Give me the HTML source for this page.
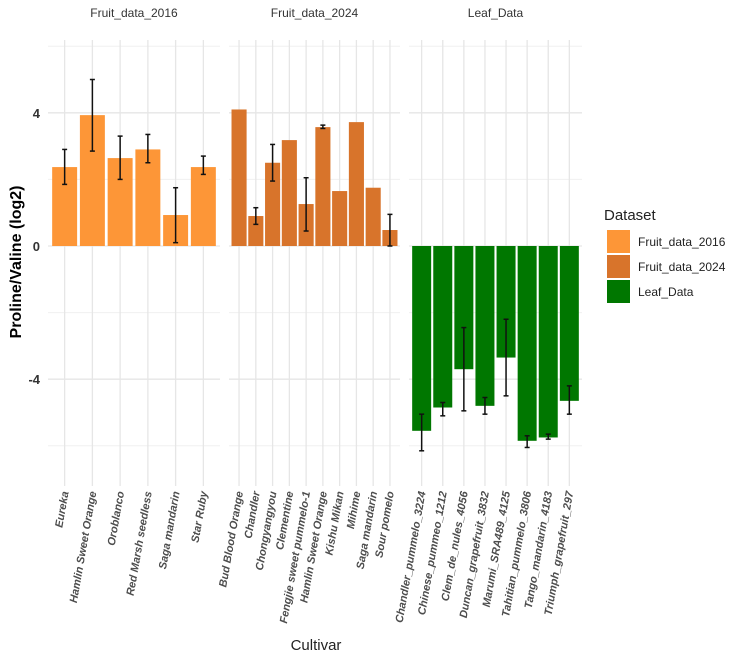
<!DOCTYPE html>
<html><head><meta charset="utf-8"><style>
body{margin:0;background:#fff}
svg{display:block;font-family:"Liberation Sans",sans-serif}
</style></head><body>
<svg id="chart" width="735" height="657" viewBox="0 0 735 657" xmlns="http://www.w3.org/2000/svg">
<g id="grid"></g>
<g id="marks"></g>
<g id="labels"></g>
<text x="0" y="0" transform="translate(21,262) rotate(-90)" text-anchor="middle" font-size="16" font-weight="bold">Proline/Valine (log2)</text>
<text x="316" y="650" text-anchor="middle" font-size="15" fill="#222">Cultivar</text>
<g>
<text x="604" y="220" font-size="15" fill="#222">Dataset</text>
<rect x="607" y="230" width="23" height="23" fill="#FD9637"/>
<text x="638" y="246" font-size="12" fill="#222">Fruit_data_2016</text>
<rect x="607" y="255" width="23" height="23" fill="#D8742B"/>
<text x="638" y="271" font-size="12" fill="#222">Fruit_data_2024</text>
<rect x="607" y="280" width="23" height="23" fill="#007700"/>
<text x="638" y="296" font-size="12" fill="#222">Leaf_Data</text>
</g>
</svg>
<script>
const cats2016=["Eureka","Hamlin Sweet Orange","Oroblanco","Red Marsh seedless","Saga mandarin","Star Ruby"];
const vals2016=[2.37,3.93,2.64,2.9,0.93,2.37];
const lo2016=[1.85,2.85,2.0,2.5,0.1,2.15];
const hi2016=[2.9,5.0,3.3,3.35,1.75,2.7];
const cats2024=["Bud Blood Orange","Chandler","Chongyangyou","Clementine","Fengjie sweet pummelo-1","Hamlin Sweet Orange","Kishu Mikan","Mihime","Saga mandarin","Sour pomelo"];
const vals2024=[4.1,0.9,2.5,3.18,1.26,3.57,1.65,3.72,1.75,0.48];
const lo2024=[null,0.65,1.95,null,0.45,3.53,null,null,null,0.0];
const hi2024=[null,1.15,3.05,null,2.05,3.63,null,null,null,0.95];
const catsLeaf=["Chandler_pummelo_3224","Chinese_pummeo_1212","Clem_de_nules_4056","Duncan_grapefruit_3832","Marumi_SRA489_4125","Tahitian_pummelo_3806","Tango_mandarin_4183","Triumph_grapefruit_297"];
const valsLeaf=[-5.55,-4.85,-3.7,-4.8,-3.35,-5.85,-5.75,-4.65];
const loLeaf=[-6.15,-5.1,-4.95,-5.05,-4.5,-6.05,-5.8,-5.05];
const hiLeaf=[-5.05,-4.7,-2.45,-4.55,-2.2,-5.7,-5.65,-4.2];
const panelTitles=["Fruit_data_2016","Fruit_data_2024","Leaf_Data"];
const yMajor=[-4,0,4];
const yMinor=[-6,-2,2,6];

const NS="http://www.w3.org/2000/svg";
const top0=40,bot0=486;
const y=v=>246-v*33.3;
const panels=[
 {x0:48,x1:220,cats:cats2016,vals:vals2016,lo:lo2016,hi:hi2016,col:"#FD9637"},
 {x0:229,x1:400,cats:cats2024,vals:vals2024,lo:lo2024,hi:hi2024,col:"#D8742B"},
 {x0:409,x1:582,cats:catsLeaf,vals:valsLeaf,lo:loLeaf,hi:hiLeaf,col:"#007700"}];
function mk(tag,attrs,parent){const e=document.createElementNS(NS,tag);for(const k in attrs)e.setAttribute(k,attrs[k]);parent.appendChild(e);return e;}
const G=document.getElementById('grid'),M=document.getElementById('marks'),L=document.getElementById('labels');
panels.forEach((p,pi)=>{
 const n=p.cats.length,u=(p.x0<0?0:(p.x1-p.x0)/(n+0.2));
 const x=i=>p.x0+(i+0.6)*u;
 yMinor.forEach(v=>{const l=mk('line',{x1:p.x0,x2:p.x1,y1:y(v),y2:y(v),stroke:"#f0f0f0","stroke-width":1},G);
  });
 yMajor.forEach(v=>{const l=mk('line',{x1:p.x0,x2:p.x1,y1:y(v),y2:y(v),stroke:"#e6e6e6","stroke-width":1.3},G);
  });
 p.cats.forEach((c,i)=>{const l=mk('line',{x1:x(i),x2:x(i),y1:top0,y2:bot0,stroke:"#e6e6e6","stroke-width":1.3},G);
  });
 const t=mk('text',{x:(p.x0+p.x1)/2,y:17,"text-anchor":"middle","font-size":12,fill:"#333"},L);t.textContent=panelTitles[pi];
 
 p.cats.forEach((c,i)=>{
  const v=p.vals[i],bw=u*0.9;
  const r=mk('rect',{x:x(i)-bw/2,y:Math.min(y(v),y(0)),width:bw,height:Math.abs(y(v)-y(0)),fill:p.col},M);
  
  if(p.lo[i]!=null){
   const e=mk('g',{stroke:"#111","stroke-width":1.5},M);
   
   mk('line',{x1:x(i),x2:x(i),y1:y(p.lo[i]),y2:y(p.hi[i])},e);
   mk('line',{x1:x(i)-2.5,x2:x(i)+2.5,y1:y(p.lo[i]),y2:y(p.lo[i])},e);
   mk('line',{x1:x(i)-2.5,x2:x(i)+2.5,y1:y(p.hi[i]),y2:y(p.hi[i])},e);
  }
  const lt=mk('text',{transform:`translate(${x(i)+4},492) rotate(-80)`,"text-anchor":"end","font-size":11,"font-weight":"bold","font-style":"italic",fill:"#4d4d4d"},L);
  lt.textContent=c;
 });
});
yMajor.forEach(v=>{const t=mk('text',{x:40,y:y(v)+5,"text-anchor":"end","font-size":13,"font-weight":"bold",fill:"#333"},L);
 t.textContent=String(v);});
</script>
</body></html>
